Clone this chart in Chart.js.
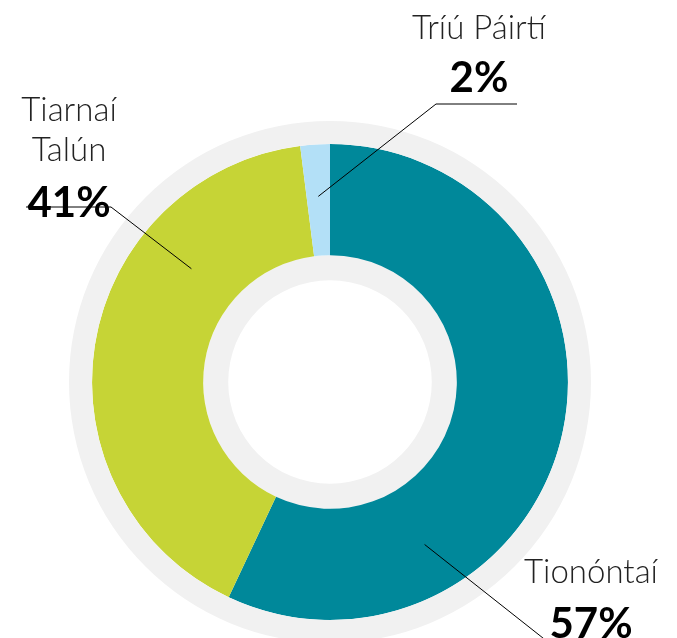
<!DOCTYPE html>
<html>
<head>
<meta charset="utf-8">
<script src="https://cdn.jsdelivr.net/npm/chart.js@4.4.1/dist/chart.umd.min.js"></script>
<style>
    html, body { margin: 0; padding: 0; overflow: hidden; background: #ffffff; }
    #tenureChart { display: block; }
</style>
</head>
<body>
<canvas id="tenureChart" width="677" height="660"></canvas>
<script>
// Chart data
const categories = ['Tionóntaí', 'Tiarnaí Talún', 'Tríú Páirtí'];
const shares = [57, 41, 2];
const sliceColors = ['#00889a', '#c6d436', '#b3e0f7'];
const ringColor = '#f1f1f1';

/**
 * Where each label sits and how its leader line runs
 * (fraction = position along the slice for the line's anchor)
 */
const LABEL_LAYOUT = [
    { lines: ['Tionóntaí'], x: 591, y: 583, pctY: 638, fraction: 0.73, radius: 188, path: [[548, 642]] },
    { lines: ['Tiarnaí', 'Talún'], x: 69, y: 121, pctY: 217, fraction: 0.705, radius: 179, path: [[111, 207], [26, 207]] },
    { lines: ['Tríú Páirtí'], x: 479, y: 39, pctY: 92, fraction: 0.5, radius: 186, path: [[436, 104], [517, 104]] }
];

const calloutPlugin = {
    id: 'callouts',
    afterDraw(chart) {
        const ctx = chart.ctx;
        const arcs = chart.getDatasetMeta(1).data;

        ctx.save();
        ctx.textAlign = 'center';
        ctx.textBaseline = 'alphabetic';

        LABEL_LAYOUT.forEach((layout, i) => {
            // names
            ctx.fillStyle = '#222222';
            ctx.font = '300 33px Lato, "Open Sans", sans-serif';
            layout.lines.forEach((line, j) => {
                ctx.fillText(line, layout.x, layout.y + j * 40);
            });

            // percentage
            ctx.fillStyle = '#000000';
            ctx.font = 'bold 42px Lato, "Open Sans", sans-serif';
            ctx.fillText(shares[i] + '%', layout.x, layout.pctY);

            // leader line, anchored inside the slice
            const arc = arcs[i];
            const p = arc.getProps(['x', 'y', 'startAngle', 'endAngle'], true);
            const angle = p.startAngle + layout.fraction * (p.endAngle - p.startAngle);
            const ax = p.x + layout.radius * Math.cos(angle);
            const ay = p.y + layout.radius * Math.sin(angle);

            ctx.strokeStyle = '#000000';
            ctx.lineWidth = 1;
            ctx.beginPath();
            ctx.moveTo(ax, ay);
            layout.path.forEach(pt => ctx.lineTo(pt[0], pt[1]));
            ctx.stroke();
        });

        ctx.restore();
    }
};

new Chart(document.getElementById('tenureChart'), {
    type: 'doughnut',
    data: {
        labels: categories,
        datasets: [{
            data: [100],
            backgroundColor: [ringColor],
            borderWidth: 0,
            weight: 23
        }, {
            data: shares,
            backgroundColor: sliceColors,
            borderWidth: 0,
            weight: 111
        }, {
            data: [100],
            backgroundColor: [ringColor],
            borderWidth: 0,
            weight: 25
        }]
    },
    options: {
        responsive: false,
        animation: false,
        cutout: '39%',
        layout: {
            padding: { left: 69, top: 121, right: 86, bottom: 17 }
        },
        plugins: {
            legend: { display: false },
            tooltip: { enabled: false }
        }
    },
    plugins: [calloutPlugin]
});
</script>
</body>
</html>
